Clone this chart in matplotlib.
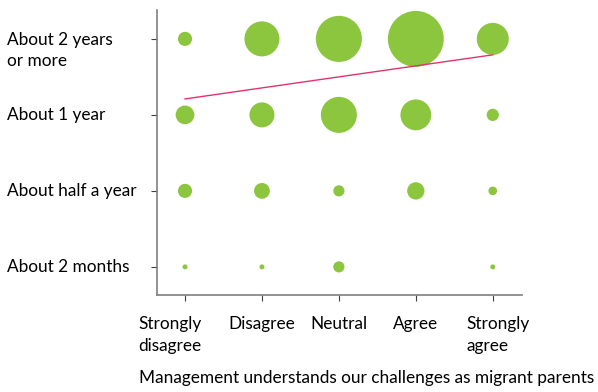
import numpy as np
import matplotlib
matplotlib.use('Agg')
import matplotlib.pyplot as plt
import matplotlib.transforms as mtransforms

plt.rcParams['font.family'] = ['Lato', 'DejaVu Sans']

# categories
x_labels = ['Strongly\ndisagree', 'Disagree', 'Neutral', 'Agree', 'Strongly\nagree']
y_labels = ['About 2 months', 'About half a year', 'About 1 year', 'About 2 years\nor more']

# bubble values per row (bottom row first)
two_months = [1, 1, 5, 0, 1]
half_year = [8, 10, 5, 12, 3]
one_year = [14, 25, 52, 38, 6]
two_years = [8, 49, 85, 125, 41]

# trend line end points (at first and last x category)
trend = [2.21, 2.79]

x_title = 'Management understands our challenges as migrant parents'

green = '#8CC63F'
red = '#E3336B'
fs = 12.4

fig = plt.figure(figsize=(5.98, 3.92), dpi=100)
ax = fig.add_axes([157/598, 1-295/392, (522-157)/598, (295-10)/392])

rows = [two_months, half_year, one_year, two_years]
for yi, row in enumerate(rows):
    xs = np.arange(len(row))
    vals = np.array(row, dtype=float)
    keep = vals > 0
    ax.scatter(xs[keep], np.full(keep.sum(), yi), s=vals[keep] * 12.96,
               color=green, edgecolors='none', zorder=2)

ax.plot([0, len(x_labels) - 1], trend, color=red, lw=1.0, zorder=3)

ax.set_xlim(-0.364, 4.38)
ax.set_ylim(-0.37, 3.38)

for s in ['top', 'right']:
    ax.spines[s].set_visible(False)
for s in ['left', 'bottom']:
    ax.spines[s].set_color('#7f7f7f')
    ax.spines[s].set_linewidth(1.2)

ax.set_xticks(range(len(x_labels)))
ax.set_xticklabels(x_labels, fontsize=fs, multialignment='left', linespacing=1.45)
ax.tick_params(axis='x', length=4, width=0.8, color='#404040', pad=11)
shifts = [-15, 0, 0, 0, 5]
for lab, dx in zip(ax.get_xticklabels(), shifts):
    lab.set_transform(lab.get_transform() + mtransforms.ScaledTranslation(dx / 100, 0, fig.dpi_scale_trans))

ax.set_yticks(range(len(y_labels)))
ax.set_yticklabels([])
ax.tick_params(axis='y', length=4, width=0.8, color='#404040')

trans = mtransforms.blended_transform_factory(fig.transFigure, ax.transData)
for yi, lab in enumerate(y_labels):
    yy = yi if '\n' not in lab else yi - 0.15
    ax.text(7/598, yy, lab, transform=trans, ha='left', va='center',
            fontsize=fs, linespacing=1.35)

fig.text(367/598, 1 - 378/392, x_title, ha='center', va='center', fontsize=fs)

fig.savefig('out.png', dpi=100)
